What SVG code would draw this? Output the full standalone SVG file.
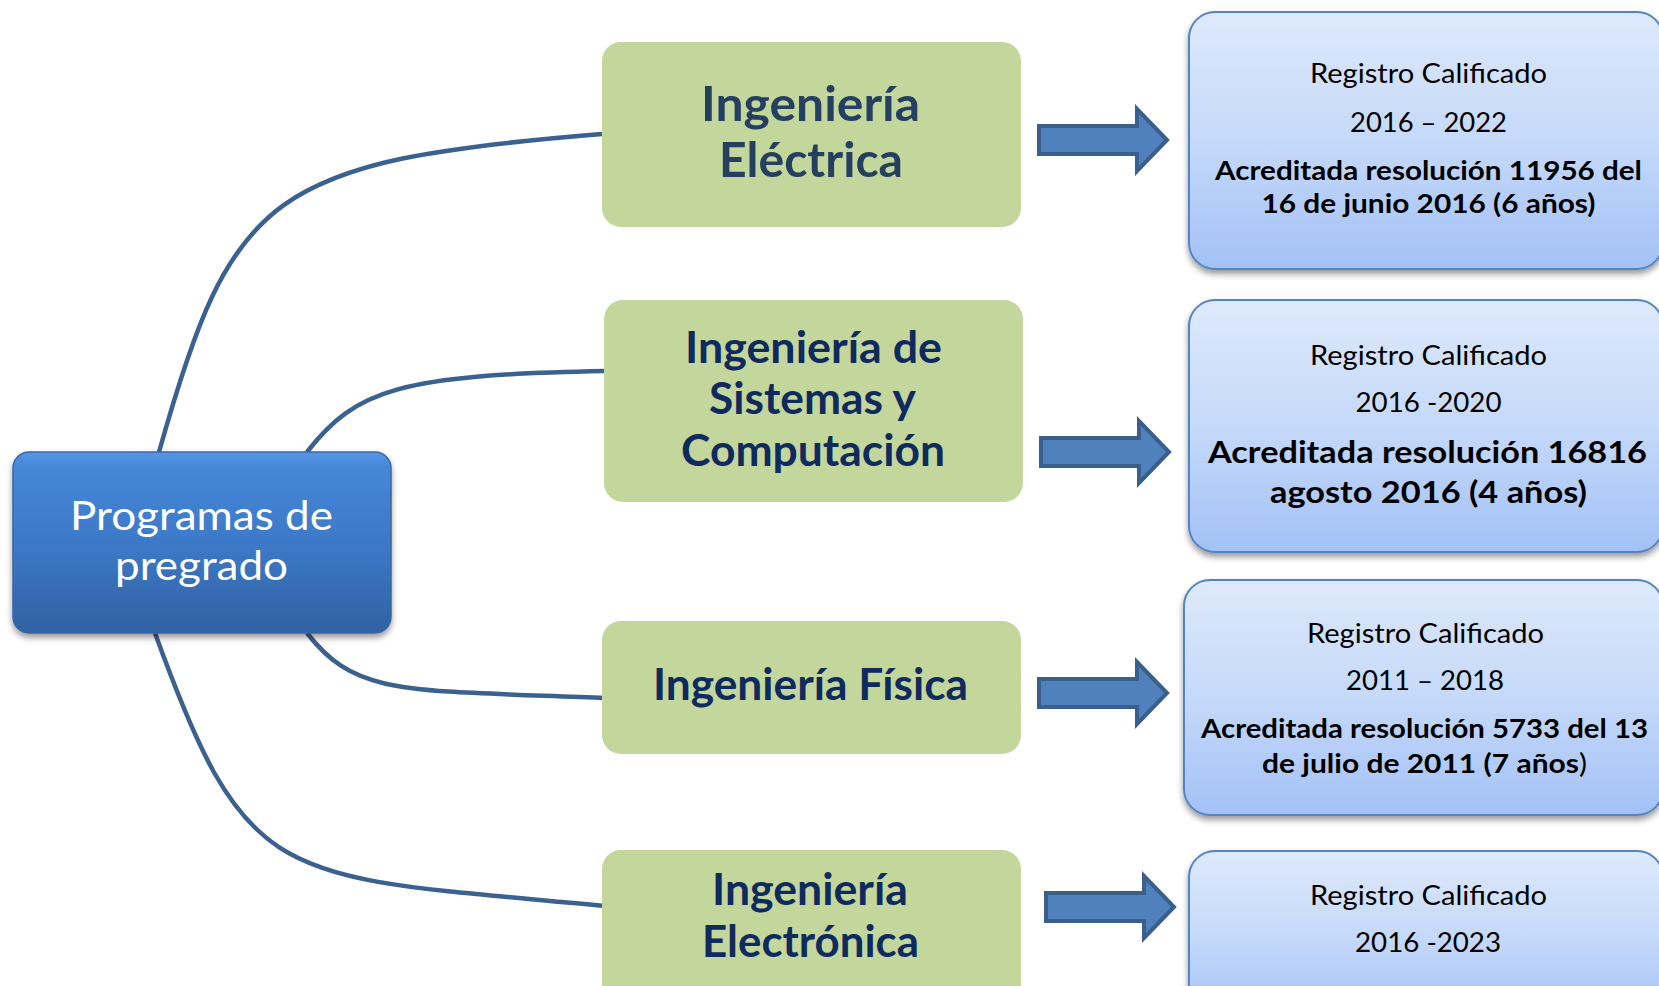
<svg xmlns="http://www.w3.org/2000/svg" width="1659" height="986" viewBox="0 0 1659 986">
<defs>
<style>
.conn{fill:none;stroke:#3a6190;stroke-width:4.5;stroke-linecap:butt}
.green{fill:#c3d69b}
.gt{font-family:"Lato","Open Sans",sans-serif;font-weight:bold;text-anchor:middle;fill:#0f2a5e}
.ct{font-family:"Lato","Open Sans",sans-serif;font-size:41px;text-anchor:middle;fill:#ffffff}
.rb{fill:url(#blueLight);stroke:#5484c3;stroke-width:2}
.rt{font-family:"Lato","Open Sans",sans-serif;font-size:26px;text-anchor:middle;fill:#000}
.rtb{font-family:"Lato","Open Sans",sans-serif;font-weight:bold;text-anchor:middle;fill:#000}
.arrow{fill:#4f81bd;stroke:#3a5f8c;stroke-width:4;stroke-linejoin:miter}
</style>
<linearGradient id="blueLight" x1="0" y1="0" x2="0" y2="1">
<stop offset="0" stop-color="#dee9fb"/>
<stop offset="0.5" stop-color="#c5d9f9"/>
<stop offset="1" stop-color="#a3c1f7"/>
</linearGradient>
<linearGradient id="blueDark" x1="0" y1="0" x2="0" y2="1">
<stop offset="0" stop-color="#5696e6"/>
<stop offset="0.08" stop-color="#4687d8"/>
<stop offset="0.5" stop-color="#3d79c8"/>
<stop offset="1" stop-color="#3162a3"/>
</linearGradient>
<filter id="shadow" x="-10%" y="-10%" width="120%" height="130%">
<feDropShadow dx="0" dy="4" stdDeviation="3" flood-color="#000" flood-opacity="0.4"/>
</filter>
<path id="arr" d="M2,-14 H100 V-31 L130,0 L100,31 V14 H2 Z"/>
</defs>
<rect width="1659" height="986" fill="#ffffff"/>

<g id="connectors">
<path class="conn" d="M159,452 C232,192 269,161 602,134"/>
<path class="conn" d="M307,452 C356,389 401,375 604,371"/>
<path class="conn" d="M307,633 C356,696 401,690 606,698"/>
<path class="conn" d="M155,633 C249,893 278,875 606,906"/>
<use href="#arr" class="arrow" x="1037" y="140"/>
<use href="#arr" class="arrow" x="1039" y="452"/>
<use href="#arr" class="arrow" x="1037" y="693"/>
<use href="#arr" class="arrow" x="1044" y="907"/>
</g>

<g id="root">
<rect x="13" y="452" width="378" height="181" rx="16" fill="url(#blueDark)" stroke="#3567a8" stroke-width="1.5" filter="url(#shadow)"/>
<text class="ct" x="201.5" y="530" textLength="263" lengthAdjust="spacingAndGlyphs">Programas de</text>
<text class="ct" x="201.5" y="580" textLength="173" lengthAdjust="spacingAndGlyphs">pregrado</text>
</g>

<g id="electrica">
<rect class="green" x="602" y="42" width="419" height="185" rx="19"/>
<text class="gt" style="fill:#243f60" font-size="48" x="810.5" y="121" textLength="219" lengthAdjust="spacingAndGlyphs">Ingeniería</text>
<text class="gt" style="fill:#243f60" font-size="48" x="811" y="177" textLength="184" lengthAdjust="spacingAndGlyphs">Eléctrica</text>
</g>

<g id="sistemas">
<rect class="green" x="604" y="300" width="419" height="202" rx="19"/>
<text class="gt" font-size="44" x="813.5" y="363" textLength="257" lengthAdjust="spacingAndGlyphs">Ingeniería de</text>
<text class="gt" font-size="44" x="812.5" y="414" textLength="207" lengthAdjust="spacingAndGlyphs">Sistemas y</text>
<text class="gt" font-size="44" x="813" y="466" textLength="264" lengthAdjust="spacingAndGlyphs">Computación</text>
</g>

<g id="fisica">
<rect class="green" x="602" y="621" width="419" height="133" rx="19"/>
<text class="gt" font-size="43" x="810.5" y="700" textLength="315" lengthAdjust="spacingAndGlyphs">Ingeniería Física</text>
</g>

<g id="electronica">
<rect class="green" x="602" y="850" width="419" height="160" rx="19"/>
<text class="gt" font-size="44" x="810" y="905" textLength="196" lengthAdjust="spacingAndGlyphs">Ingeniería</text>
<text class="gt" font-size="44" x="810.5" y="957" textLength="217" lengthAdjust="spacingAndGlyphs">Electrónica</text>
</g>

<g id="info-electrica">
<rect class="rb" x="1189" y="12" width="474" height="257" rx="26" filter="url(#shadow)"/>
<text class="rt" x="1428.5" y="83" textLength="237" lengthAdjust="spacingAndGlyphs">Registro Calificado</text>
<text class="rt" x="1428.5" y="132" textLength="157" lengthAdjust="spacingAndGlyphs">2016 – 2022</text>
<text class="rtb" font-size="27" x="1428.5" y="180" textLength="427" lengthAdjust="spacingAndGlyphs">Acreditada resolución 11956 del</text>
<text class="rtb" font-size="27" x="1428.5" y="213" textLength="334" lengthAdjust="spacingAndGlyphs">16 de junio 2016 (6 años)</text>
</g>

<g id="info-sistemas">
<rect class="rb" x="1189" y="300" width="474" height="252" rx="26" filter="url(#shadow)"/>
<text class="rt" x="1428.5" y="365" textLength="237" lengthAdjust="spacingAndGlyphs">Registro Calificado</text>
<text class="rt" x="1428.5" y="412" textLength="146" lengthAdjust="spacingAndGlyphs">2016 -2020</text>
<text class="rtb" font-size="30" x="1427.5" y="463" textLength="439" lengthAdjust="spacingAndGlyphs">Acreditada resolución 16816</text>
<text class="rtb" font-size="30" x="1428.5" y="503" textLength="317" lengthAdjust="spacingAndGlyphs">agosto 2016 (4 años)</text>
</g>

<g id="info-fisica">
<rect class="rb" x="1184" y="580" width="479" height="235" rx="26" filter="url(#shadow)"/>
<text class="rt" x="1425.5" y="643" textLength="237" lengthAdjust="spacingAndGlyphs">Registro Calificado</text>
<text class="rt" x="1425" y="690" textLength="158" lengthAdjust="spacingAndGlyphs">2011 – 2018</text>
<text class="rtb" font-size="27" x="1424.5" y="738" textLength="447" lengthAdjust="spacingAndGlyphs">Acreditada resolución 5733 del 13</text>
<text class="rtb" font-size="27" x="1424.5" y="773" textLength="325" lengthAdjust="spacingAndGlyphs">de julio de 2011 (7 años<tspan font-weight="normal">)</tspan></text>
</g>

<g id="info-electronica">
<rect class="rb" x="1189" y="851" width="474" height="170" rx="26" filter="url(#shadow)"/>
<text class="rt" x="1428.5" y="905" textLength="237" lengthAdjust="spacingAndGlyphs">Registro Calificado</text>
<text class="rt" x="1428" y="952" textLength="146" lengthAdjust="spacingAndGlyphs">2016 -2023</text>
</g>
</svg>
